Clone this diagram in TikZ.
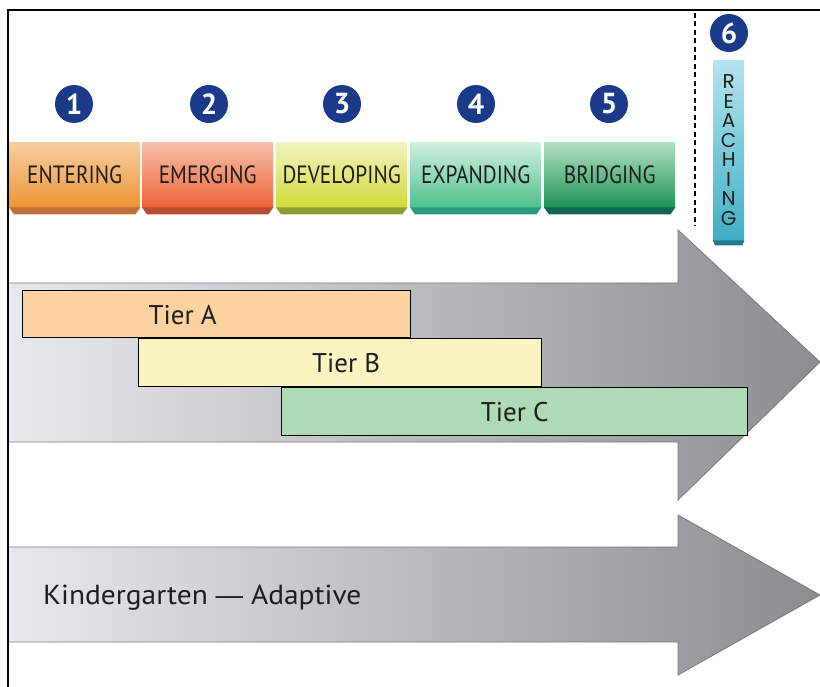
\documentclass[tikz,border=0pt]{standalone}
\usepackage{fontspec}
\setmainfont{PT Sans}
\newfontfamily\reachfont{Poppins}
\newfontfamily\condfont[FakeStretch=0.85]{PT Sans}
\newfontfamily\widefont[FakeStretch=1.07]{PT Sans}
\newfontfamily\dashfont{Liberation Sans}
\usetikzlibrary{calc}
\definecolor{navy}{HTML}{1B3A8A}
\definecolor{arrowL}{HTML}{E8E9EC}
\definecolor{arrowR}{HTML}{8C8D91}
\definecolor{arrowE}{HTML}{7A7B7F}
\definecolor{entT}{HTML}{F6CFA0}
\definecolor{entB}{HTML}{EE9436}
\definecolor{entD}{HTML}{C0703A}
\definecolor{emeT}{HTML}{F8C0AA}
\definecolor{emeB}{HTML}{EE6236}
\definecolor{emeD}{HTML}{B84C2E}
\definecolor{devT}{HTML}{F1F3C0}
\definecolor{devB}{HTML}{D2DA3A}
\definecolor{devD}{HTML}{8E9E34}
\definecolor{expT}{HTML}{D2F0E0}
\definecolor{expB}{HTML}{4FC08E}
\definecolor{expD}{HTML}{2A9A7E}
\definecolor{briT}{HTML}{B2E0C2}
\definecolor{briB}{HTML}{1E9458}
\definecolor{briD}{HTML}{0F6656}
\definecolor{reaT}{HTML}{B4E4EE}
\definecolor{reaB}{HTML}{3FAFC6}
\definecolor{reaD}{HTML}{23798C}
\definecolor{tierA}{HTML}{FCD3A0}
\definecolor{tierB}{HTML}{FBF4C0}
\definecolor{tierC}{HTML}{AEDBB6}
\definecolor{txt}{HTML}{1E1E1E}
\tikzset{
  num/.style={circle, fill=navy, text=white, minimum size=38, inner sep=0,
    font=\bfseries\fontsize{29}{29}\selectfont},
  level/.style={rectangle, inner sep=0, minimum width=131, minimum height=65,
    anchor=north west, text=txt, font=\condfont\fontsize{25}{25}\selectfont},
  tier/.style={rectangle, draw=black, line width=1.4pt, inner sep=0,
    anchor=north west, text=txt, font=\fontsize{27}{27}\selectfont},
  bigarrow/.style={left color=arrowL, right color=arrowR, draw=arrowE, line width=0.8pt}
}
\begin{document}
\begin{tikzpicture}[x=1pt,y=-1pt]
\useasboundingbox (0,0) rectangle (820,687);
\fill[white] (0,0) rectangle (820,687);

% arrows
\shade[bigarrow] (8,283) -- (678,283) -- (678,230) -- (820,362) -- (678,500) -- (678,442) -- (8,442) -- cycle;
\shade[bigarrow] (8,547) -- (678,547) -- (678,515) -- (820,595) -- (678,675) -- (678,642) -- (8,642) -- cycle;

% frame
\draw[line width=2pt] (8,687) -- (8,10) -- (820,10);

% numbers
\node[num] (n1) at (74,104) {1};
\node[num] (n2) at (209,104) {2};
\node[num] (n3) at (342,104) {3};
\node[num] (n4) at (476,104) {4};
\node[num] (n5) at (609,104) {5};
\node[num] (n6) at (729,33) {6};

% levels
\node[level, top color=entT, bottom color=entB] (ent) at (9,142) {ENTERING};
\node[level, top color=emeT, bottom color=emeB] (eme) at (142,142) {EMERGING};
\node[level, top color=devT, bottom color=devB] (dev) at (276,142) {DEVELOPING};
\node[level, top color=expT, bottom color=expB] (exp) at (410,142) {EXPANDING};
\node[level, top color=briT, bottom color=briB] (bri) at (544,142) {BRIDGING};
\foreach \n/\c in {ent/entD, eme/emeD, dev/devD, exp/expD, bri/briD}{
  \fill[\c] (\n.south west) -- (\n.south east) -- ++(-5,7) -- ($(\n.south west)+(5,7)$) -- cycle;
}

% reaching
\node[rectangle, inner sep=0, minimum width=31, minimum height=180, anchor=north west,
  top color=reaT, bottom color=reaB, align=center, text=txt,
  font=\reachfont\fontsize{20}{19.5}\selectfont] (rch) at (713,60) {R\\E\\A\\C\\H\\I\\N\\G};
\fill[reaD] (rch.south west) -- (rch.south east) -- ++(-2,5) -- ($(rch.south west)+(2,5)$) -- cycle;

% dashed separator
\draw[line width=2pt, dash pattern=on 5pt off 3.5pt] (695,13) -- (695,226);

% tiers
\node[tier, fill=tierA, minimum width=388, minimum height=47,
  label={[xshift=-34pt, yshift=-1pt, text=txt, font=\fontsize{27}{27}\selectfont]center:Tier A}] (ta) at (22,290) {};
\node[tier, fill=tierB, minimum width=403, minimum height=48] (tb) at (138,338) {\hspace*{12pt}Tier B};
\node[tier, fill=tierC, minimum width=466, minimum height=48] (tc) at (281,387) {Tier C};

% kindergarten
\node[anchor=west, text=txt, inner sep=0, font=\widefont\fontsize{27.5}{27.5}\selectfont] (kg) at (43,598) {Kindergarten {\dashfont —} Adaptive};
\end{tikzpicture}
\end{document}
